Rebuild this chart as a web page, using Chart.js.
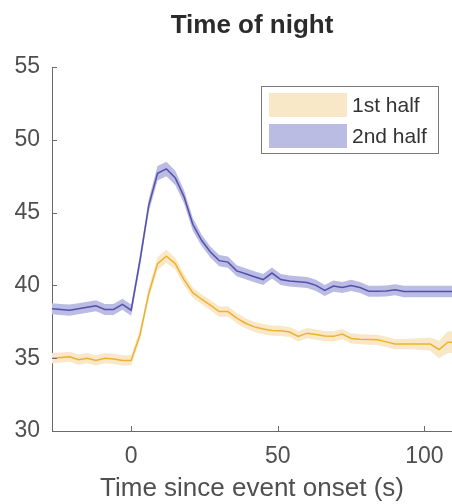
<!DOCTYPE html>
<html>
<head>
<meta charset="utf-8">
<script src="https://cdn.jsdelivr.net/npm/chart.js@4"></script>
<style>
  html, body { margin: 0; padding: 0; background: #fff; }
  #wrap { width: 452px; height: 504px; }
</style>
</head>
<body>
<div id="wrap"><canvas id="myChart"></canvas></div>
<script>
// sample times (s) relative to event onset
var times = [-27, -24, -21, -18, -15, -12, -9, -6, -3, 0,
  3, 6, 9, 12, 15, 18, 21, 24, 27, 30,
  33, 36, 39, 42, 45, 48, 51, 54, 57, 60,
  63, 66, 69, 72, 75, 78, 81, 84, 87, 90,
  93, 96, 99, 102, 105, 108, 111];

// mean response, first half of the night
var firstHalf = [35.0, 35.05, 35.1, 34.9, 35.0, 34.85, 35.0, 34.95, 34.85, 34.85,
  36.6, 39.45, 41.5, 42.0, 41.5, 40.4, 39.5, 39.05, 38.65, 38.2,
  38.2, 37.75, 37.4, 37.15, 37.0, 36.9, 36.88, 36.8, 36.5, 36.72,
  36.62, 36.52, 36.5, 36.66, 36.36, 36.3, 36.28, 36.26, 36.12, 35.97,
  35.97, 35.97, 35.97, 35.97, 35.6, 36.1, 36.1];
var firstHalfErr = [0.35, 0.35, 0.35, 0.35, 0.35, 0.35, 0.35, 0.35, 0.35, 0.35,
  0.35, 0.4, 0.45, 0.45, 0.4, 0.4, 0.35, 0.35, 0.35, 0.35,
  0.35, 0.35, 0.35, 0.35, 0.35, 0.35, 0.35, 0.35, 0.35, 0.35,
  0.35, 0.35, 0.35, 0.35, 0.35, 0.35, 0.35, 0.35, 0.35, 0.35,
  0.35, 0.38, 0.4, 0.45, 0.6, 0.75, 0.75];

// mean response, second half of the night
var secondHalf = [38.4, 38.35, 38.3, 38.4, 38.5, 38.6, 38.35, 38.35, 38.7, 38.3,
  41.7, 45.5, 47.7, 48.0, 47.4, 46.1, 44.2, 43.1, 42.3, 41.7,
  41.6, 41.0, 40.8, 40.6, 40.4, 40.85, 40.4, 40.3, 40.25, 40.2,
  40.0, 39.65, 39.95, 39.85, 40.0, 39.85, 39.6, 39.6, 39.62, 39.7,
  39.58, 39.58, 39.58, 39.58, 39.58, 39.58, 39.58];
var secondHalfErr = [0.38, 0.38, 0.38, 0.38, 0.38, 0.38, 0.38, 0.38, 0.38, 0.38,
  0.4, 0.45, 0.5, 0.5, 0.5, 0.45, 0.45, 0.4, 0.38, 0.38,
  0.38, 0.38, 0.38, 0.38, 0.38, 0.38, 0.38, 0.38, 0.38, 0.38,
  0.38, 0.38, 0.38, 0.38, 0.38, 0.38, 0.38, 0.38, 0.38, 0.38,
  0.4, 0.4, 0.4, 0.4, 0.4, 0.4, 0.4];

var xTicks = [0, 50, 100];
var seriesNames = ['1st half', '2nd half'];

var FONT = '"Liberation Sans", Arial, Helvetica, sans-serif';
var axisColor = '#6a6a6a';
var textColor = '#4f4f4f';
var orangeLine = 'rgb(237, 177, 48)';
var orangeBand = 'rgb(248, 232, 200)';
var blueLine = 'rgb(84, 80, 170)';
var blueBand = 'rgb(186, 188, 228)';

function pts(vals, err, sign) {
  return times.map(function (t, i) {
    return { x: t, y: vals[i] + sign * (err ? err[i] : 0) };
  });
}

// MATLAB-style tick marks pointing into the axes
var tickMarks = {
  id: 'tickMarks',
  afterDraw: function (chart) {
    var ctx = chart.ctx, a = chart.chartArea;
    var xs = chart.scales.x, ys = chart.scales.y;
    ctx.save();
    ctx.strokeStyle = axisColor;
    ctx.lineWidth = 1;
    ctx.beginPath();
    xs.ticks.forEach(function (t) {
      var px = Math.round(xs.getPixelForValue(t.value)) + 0.5;
      ctx.moveTo(px, a.bottom);
      ctx.lineTo(px, a.bottom - 5);
    });
    ys.ticks.forEach(function (t) {
      var py = Math.round(ys.getPixelForValue(t.value)) + 0.5;
      ctx.moveTo(a.left, py);
      ctx.lineTo(a.left + 5, py);
    });
    ctx.stroke();
    ctx.restore();
  }
};

// boxed legend in the upper right corner
var boxLegend = {
  id: 'boxLegend',
  afterDraw: function (chart) {
    var ctx = chart.ctx, a = chart.chartArea;
    var bx = a.right - 190.5, by = a.top + 19.5;
    ctx.save();
    ctx.fillStyle = '#fff';
    ctx.fillRect(bx, by, 177, 67);
    ctx.strokeStyle = '#7a7a7a';
    ctx.lineWidth = 1;
    ctx.strokeRect(bx, by, 177, 67);
    var fills = [orangeBand, blueBand];
    ctx.font = '21px ' + FONT;
    ctx.textBaseline = 'middle';
    ctx.textAlign = 'left';
    for (var i = 0; i < seriesNames.length; i++) {
      var ry = by + 6.5 + i * 31;
      ctx.fillStyle = fills[i];
      ctx.fillRect(bx + 7.5, ry, 78, 24);
      ctx.fillStyle = '#333';
      ctx.fillText(seriesNames[i], bx + 90.5, ry + 13);
    }
    ctx.restore();
  }
};

var ctx = document.getElementById('myChart').getContext('2d');
var myChart = new Chart(ctx, {
  type: 'line',
  data: {
    datasets: [
      { label: 'band1', data: pts(firstHalf, firstHalfErr, 1), borderWidth: 0, pointRadius: 0,
        fill: '+1', backgroundColor: orangeBand, order: 3 },
      { label: 'band1lo', data: pts(firstHalf, firstHalfErr, -1), borderWidth: 0, pointRadius: 0,
        fill: false, order: 3 },
      { label: 'band2', data: pts(secondHalf, secondHalfErr, 1), borderWidth: 0, pointRadius: 0,
        fill: '+1', backgroundColor: blueBand, order: 3 },
      { label: 'band2lo', data: pts(secondHalf, secondHalfErr, -1), borderWidth: 0, pointRadius: 0,
        fill: false, order: 3 },
      { label: seriesNames[0], data: pts(firstHalf, null, 0), borderColor: orangeLine,
        borderWidth: 1.5, pointRadius: 0, fill: false, tension: 0, order: 1 },
      { label: seriesNames[1], data: pts(secondHalf, null, 0), borderColor: blueLine,
        borderWidth: 1.5, pointRadius: 0, fill: false, tension: 0, order: 1 }
    ]
  },
  options: {
    responsive: true,
    maintainAspectRatio: false,
    animation: false,
    events: [],
    layout: { padding: 0 },
    plugins: {
      legend: { display: false },
      tooltip: { enabled: false },
      title: {
        display: true,
        fullSize: false,   // centre over the plot area, not the canvas
        text: 'Time of night',
        color: '#2b2b2b',
        font: { family: FONT, size: 26, weight: 'bold' },
        padding: { top: 10, bottom: 25.8 }
      }
    },
    scales: {
      x: {
        type: 'linear',
        min: -27,
        max: 109.4,
        afterBuildTicks: function (s) { s.ticks = xTicks.map(function (v) { return { value: v }; }); },
        afterFit: function (s) { s.height = 73; },
        grid: { display: false, drawTicks: false },
        border: { display: true, color: axisColor, width: 1 },
        // small padding keeps the last label from shrinking the plot; the tall line height pushes labels down
        ticks: { padding: 6, color: textColor, maxRotation: 0, font: { family: FONT, size: 23, lineHeight: 1.72 } },
        title: {
          display: true,
          text: 'Time since event onset (s)',
          color: textColor,
          font: { family: FONT, size: 26 },
          padding: { top: 0, bottom: 0 }
        }
      },
      y: {
        min: 30,
        max: 55,
        afterFit: function (s) { s.width = 52; },
        grid: { display: false, drawTicks: false },
        border: { display: true, color: axisColor, width: 1 },
        ticks: { stepSize: 5, padding: 12, color: textColor, font: { family: FONT, size: 23 } }
      }
    }
  },
  plugins: [tickMarks, boxLegend]
});
</script>
</body>
</html>
